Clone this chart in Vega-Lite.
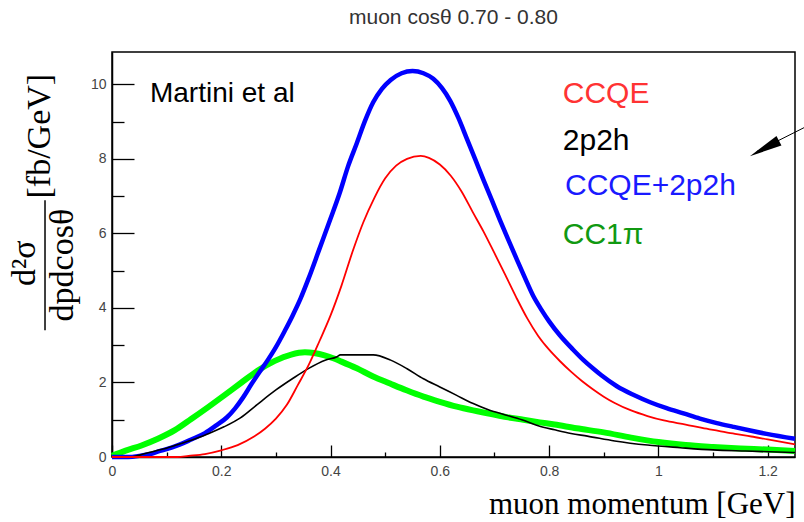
{
  "$schema": "https://vega.github.io/schema/vega-lite/v6.json",
  "width": 683,
  "height": 405,
  "autosize": {"type": "none"},
  "padding": {"left": 112, "top": 52, "right": 9, "bottom": 65},
  "background": "white",
  "config": {
    "view": {"stroke": "black", "strokeWidth": 1.5},
    "axis": {
      "grid": false,
      "labelFont": "Liberation Sans",
      "labelFontSize": 14,
      "labelColor": "#444444",
      "tickColor": "black",
      "tickWidth": 1.3,
      "domainColor": "black",
      "domainWidth": 1.5
    }
  },
  "title": {
    "text": "muon cosθ 0.70 - 0.80",
    "font": "Liberation Sans",
    "fontSize": 21,
    "fontWeight": "normal",
    "color": "#333333",
    "anchor": "middle",
    "offset": 24
  },
  "datasets": {
    "ccqe": [
      {"p": 0, "xs": 0}, {"p": 0.12, "xs": 0}, {"p": 0.14, "xs": 0.03}, {"p": 0.17, "xs": 0.08},
      {"p": 0.2, "xs": 0.18}, {"p": 0.23, "xs": 0.32}, {"p": 0.26, "xs": 0.55}, {"p": 0.28, "xs": 0.76},
      {"p": 0.3, "xs": 1.03}, {"p": 0.32, "xs": 1.4}, {"p": 0.34, "xs": 1.93}, {"p": 0.36, "xs": 2.47},
      {"p": 0.38, "xs": 3.12}, {"p": 0.4, "xs": 3.8}, {"p": 0.42, "xs": 4.6}, {"p": 0.44, "xs": 5.5},
      {"p": 0.46, "xs": 6.3}, {"p": 0.48, "xs": 6.95}, {"p": 0.5, "xs": 7.48}, {"p": 0.52, "xs": 7.82},
      {"p": 0.54, "xs": 8.0}, {"p": 0.565, "xs": 8.08}, {"p": 0.58, "xs": 8.03}, {"p": 0.6, "xs": 7.85},
      {"p": 0.62, "xs": 7.55}, {"p": 0.64, "xs": 7.12}, {"p": 0.66, "xs": 6.58}, {"p": 0.68, "xs": 6.05},
      {"p": 0.7, "xs": 5.47}, {"p": 0.72, "xs": 4.88}, {"p": 0.74, "xs": 4.28}, {"p": 0.76, "xs": 3.72},
      {"p": 0.78, "xs": 3.25}, {"p": 0.8, "xs": 2.88}, {"p": 0.82, "xs": 2.57}, {"p": 0.84, "xs": 2.29},
      {"p": 0.86, "xs": 2.04}, {"p": 0.88, "xs": 1.82}, {"p": 0.9, "xs": 1.62}, {"p": 0.92, "xs": 1.45},
      {"p": 0.95, "xs": 1.25}, {"p": 0.98, "xs": 1.1}, {"p": 1.01, "xs": 0.98}, {"p": 1.05, "xs": 0.87},
      {"p": 1.08, "xs": 0.78}, {"p": 1.11, "xs": 0.7}, {"p": 1.14, "xs": 0.62}, {"p": 1.17, "xs": 0.55},
      {"p": 1.2, "xs": 0.47}, {"p": 1.25, "xs": 0.34}
    ],
    "np2h": [
      {"p": 0, "xs": 0}, {"p": 0.035, "xs": 0}, {"p": 0.05, "xs": 0.05}, {"p": 0.07, "xs": 0.13},
      {"p": 0.09, "xs": 0.2}, {"p": 0.115, "xs": 0.31}, {"p": 0.145, "xs": 0.45}, {"p": 0.175, "xs": 0.62},
      {"p": 0.205, "xs": 0.81}, {"p": 0.235, "xs": 1.05}, {"p": 0.265, "xs": 1.4}, {"p": 0.3, "xs": 1.8},
      {"p": 0.33, "xs": 2.1}, {"p": 0.36, "xs": 2.38}, {"p": 0.39, "xs": 2.6}, {"p": 0.412, "xs": 2.69},
      {"p": 0.418, "xs": 2.74}, {"p": 0.478, "xs": 2.74}, {"p": 0.51, "xs": 2.6}, {"p": 0.54, "xs": 2.37},
      {"p": 0.57, "xs": 2.1}, {"p": 0.6, "xs": 1.88}, {"p": 0.63, "xs": 1.66}, {"p": 0.66, "xs": 1.44},
      {"p": 0.69, "xs": 1.26}, {"p": 0.72, "xs": 1.13}, {"p": 0.75, "xs": 1.0}, {"p": 0.78, "xs": 0.84},
      {"p": 0.81, "xs": 0.73}, {"p": 0.84, "xs": 0.63}, {"p": 0.87, "xs": 0.56}, {"p": 0.92, "xs": 0.43},
      {"p": 0.98, "xs": 0.32}, {"p": 1.04, "xs": 0.25}, {"p": 1.1, "xs": 0.19}, {"p": 1.16, "xs": 0.16},
      {"p": 1.25, "xs": 0.12}
    ],
    "total": [
      {"p": 0, "xs": 0}, {"p": 0.03, "xs": 0}, {"p": 0.05, "xs": 0.03}, {"p": 0.07, "xs": 0.08},
      {"p": 0.085, "xs": 0.15}, {"p": 0.1, "xs": 0.21}, {"p": 0.12, "xs": 0.31}, {"p": 0.145, "xs": 0.47},
      {"p": 0.17, "xs": 0.64}, {"p": 0.19, "xs": 0.84}, {"p": 0.21, "xs": 1.06}, {"p": 0.225, "xs": 1.3},
      {"p": 0.24, "xs": 1.6}, {"p": 0.255, "xs": 1.95}, {"p": 0.27, "xs": 2.28}, {"p": 0.285, "xs": 2.6},
      {"p": 0.3, "xs": 2.95}, {"p": 0.316, "xs": 3.38}, {"p": 0.33, "xs": 3.78}, {"p": 0.345, "xs": 4.25},
      {"p": 0.36, "xs": 4.8}, {"p": 0.38, "xs": 5.6}, {"p": 0.4, "xs": 6.4}, {"p": 0.417, "xs": 7.1},
      {"p": 0.432, "xs": 7.8}, {"p": 0.448, "xs": 8.42}, {"p": 0.463, "xs": 9.02}, {"p": 0.478, "xs": 9.52},
      {"p": 0.494, "xs": 9.88}, {"p": 0.51, "xs": 10.12}, {"p": 0.53, "xs": 10.3}, {"p": 0.55, "xs": 10.36},
      {"p": 0.57, "xs": 10.3}, {"p": 0.588, "xs": 10.15}, {"p": 0.604, "xs": 9.9}, {"p": 0.619, "xs": 9.56},
      {"p": 0.634, "xs": 9.1}, {"p": 0.649, "xs": 8.56}, {"p": 0.665, "xs": 7.98}, {"p": 0.68, "xs": 7.43},
      {"p": 0.695, "xs": 6.9}, {"p": 0.71, "xs": 6.36}, {"p": 0.725, "xs": 5.84}, {"p": 0.741, "xs": 5.3},
      {"p": 0.756, "xs": 4.8}, {"p": 0.771, "xs": 4.32}, {"p": 0.786, "xs": 3.95}, {"p": 0.8, "xs": 3.64},
      {"p": 0.82, "xs": 3.26}, {"p": 0.844, "xs": 2.88}, {"p": 0.863, "xs": 2.6}, {"p": 0.88, "xs": 2.38},
      {"p": 0.895, "xs": 2.2}, {"p": 0.924, "xs": 1.9}, {"p": 0.954, "xs": 1.67}, {"p": 0.985, "xs": 1.47},
      {"p": 1.015, "xs": 1.31}, {"p": 1.046, "xs": 1.17}, {"p": 1.076, "xs": 1.03}, {"p": 1.107, "xs": 0.91},
      {"p": 1.137, "xs": 0.81}, {"p": 1.168, "xs": 0.71}, {"p": 1.198, "xs": 0.62}, {"p": 1.25, "xs": 0.49}
    ],
    "cc1pi": [
      {"p": 0, "xs": 0.03}, {"p": 0.025, "xs": 0.17}, {"p": 0.054, "xs": 0.31}, {"p": 0.084, "xs": 0.49},
      {"p": 0.115, "xs": 0.72}, {"p": 0.145, "xs": 1.02}, {"p": 0.176, "xs": 1.34}, {"p": 0.206, "xs": 1.66},
      {"p": 0.237, "xs": 2.0}, {"p": 0.267, "xs": 2.32}, {"p": 0.298, "xs": 2.58}, {"p": 0.328, "xs": 2.75},
      {"p": 0.353, "xs": 2.81}, {"p": 0.37, "xs": 2.79}, {"p": 0.389, "xs": 2.73}, {"p": 0.405, "xs": 2.65},
      {"p": 0.42, "xs": 2.56}, {"p": 0.448, "xs": 2.38}, {"p": 0.478, "xs": 2.16}, {"p": 0.509, "xs": 1.97},
      {"p": 0.539, "xs": 1.79}, {"p": 0.57, "xs": 1.62}, {"p": 0.6, "xs": 1.48}, {"p": 0.631, "xs": 1.35},
      {"p": 0.661, "xs": 1.25}, {"p": 0.692, "xs": 1.16}, {"p": 0.722, "xs": 1.07}, {"p": 0.753, "xs": 1.0},
      {"p": 0.783, "xs": 0.93}, {"p": 0.81, "xs": 0.87}, {"p": 0.85, "xs": 0.77}, {"p": 0.9, "xs": 0.66},
      {"p": 0.95, "xs": 0.52}, {"p": 1.0, "xs": 0.4}, {"p": 1.05, "xs": 0.32}, {"p": 1.1, "xs": 0.27},
      {"p": 1.15, "xs": 0.23}, {"p": 1.2, "xs": 0.2}, {"p": 1.25, "xs": 0.16}
    ]
  },
  "layer": [
    {
      "data": {"name": "cc1pi"},
      "mark": {"type": "line", "interpolate": "monotone", "color": "#00ff00", "strokeWidth": 6},
      "encoding": {
        "x": {
          "field": "p", "type": "quantitative",
          "scale": {"domain": [0, 1.25], "nice": false, "zero": false},
          "axis": {
            "values": [0, 0.05, 0.1, 0.15, 0.2, 0.25, 0.3, 0.35, 0.4, 0.45, 0.5, 0.55, 0.6, 0.65, 0.7, 0.75, 0.8, 0.85, 0.9, 0.95, 1, 1.05, 1.1, 1.15, 1.2, 1.25],
            "labelExpr": "abs(datum.value / 0.2 - round(datum.value / 0.2)) < 0.001 ? format(datum.value, '~g') : ''",
            "tickSize": {"condition": {"test": "abs(datum.value / 0.2 - round(datum.value / 0.2)) < 0.001", "value": -12}, "value": -5},
            "labelPadding": 19,
            "labelFlush": false,
            "labelOverlap": false,
            "encode": {
              "labels": {
                "update": {
                  "fontSize": {"value": 14},
                  "font": {"value": "Liberation Sans"},
                  "fill": {"value": "#444444"}
                }
              }
            },
            "title": "muon momentum [GeV]",
            "titleFont": "Liberation Serif",
            "titleFontSize": 31,
            "titleFontWeight": "normal",
            "titleColor": "black",
            "titleAnchor": "end",
            "titleAlign": "right",
            "titleBaseline": "alphabetic",
            "titleY": 56
          }
        },
        "y": {
          "field": "xs", "type": "quantitative",
          "scale": {"domain": [0, 10.87], "nice": false, "zero": false},
          "axis": {
            "values": [0, 0.5, 1, 1.5, 2, 2.5, 3, 3.5, 4, 4.5, 5, 5.5, 6, 6.5, 7, 7.5, 8, 8.5, 9, 9.5, 10, 10.5],
            "labelExpr": "abs(datum.value / 2 - round(datum.value / 2)) < 0.001 ? format(datum.value, '~g') : ''",
            "tickSize": {"condition": {"test": "abs(datum.value / 2 - round(datum.value / 2)) < 0.001", "value": -22}, "value": -12},
            "labelPadding": 28,
            "labelFlush": false,
            "labelOverlap": false,
            "encode": {
              "labels": {
                "update": {
                  "fontSize": {"value": 14},
                  "font": {"value": "Liberation Sans"},
                  "fill": {"value": "#444444"}
                }
              }
            },
            "title": null
          }
        }
      }
    },
    {
      "data": {"name": "total"},
      "mark": {"type": "line", "interpolate": "monotone", "color": "#0000ff", "strokeWidth": 4.5},
      "encoding": {
        "x": {"field": "p", "type": "quantitative"},
        "y": {"field": "xs", "type": "quantitative"}
      }
    },
    {
      "data": {"name": "np2h"},
      "mark": {"type": "line", "interpolate": "monotone", "color": "black", "strokeWidth": 1.6},
      "encoding": {
        "x": {"field": "p", "type": "quantitative"},
        "y": {"field": "xs", "type": "quantitative"}
      }
    },
    {
      "data": {"name": "ccqe"},
      "mark": {"type": "line", "interpolate": "monotone", "color": "#ff0000", "strokeWidth": 1.8},
      "encoding": {
        "x": {"field": "p", "type": "quantitative"},
        "y": {"field": "xs", "type": "quantitative"}
      }
    },
    {
      "data": {"values": [{}]},
      "mark": {"type": "text", "font": "Liberation Sans", "fontSize": 28, "align": "left", "baseline": "alphabetic", "color": "black"},
      "encoding": {
        "x": {"datum": 0.0695, "type": "quantitative"},
        "y": {"datum": 9.54, "type": "quantitative"},
        "text": {"value": "Martini et al"}
      }
    },
    {
      "data": {"values": [{}]},
      "mark": {"type": "text", "font": "Liberation Sans", "fontSize": 30, "align": "left", "baseline": "alphabetic", "color": "#ff3333"},
      "encoding": {
        "x": {"datum": 0.825, "type": "quantitative"},
        "y": {"datum": 9.49, "type": "quantitative"},
        "text": {"value": "CCQE"}
      }
    },
    {
      "data": {"values": [{}]},
      "mark": {"type": "text", "font": "Liberation Sans", "fontSize": 30, "align": "left", "baseline": "alphabetic", "color": "black"},
      "encoding": {
        "x": {"datum": 0.825, "type": "quantitative"},
        "y": {"datum": 8.24, "type": "quantitative"},
        "text": {"value": "2p2h"}
      }
    },
    {
      "data": {"values": [{}]},
      "mark": {"type": "text", "font": "Liberation Sans", "fontSize": 30, "align": "left", "baseline": "alphabetic", "color": "#1a1aff"},
      "encoding": {
        "x": {"datum": 0.829, "type": "quantitative"},
        "y": {"datum": 7.02, "type": "quantitative"},
        "text": {"value": "CCQE+2p2h"}
      }
    },
    {
      "data": {"values": [{}]},
      "mark": {"type": "text", "font": "Liberation Sans", "fontSize": 30, "align": "left", "baseline": "alphabetic", "color": "#119911"},
      "encoding": {
        "x": {"datum": 0.825, "type": "quantitative"},
        "y": {"datum": 5.73, "type": "quantitative"},
        "text": {"value": "CC1π"}
      }
    },
    {
      "data": {"values": [{}]},
      "mark": {"type": "rule", "color": "black", "strokeWidth": 1},
      "encoding": {
        "x": {"datum": 1.268, "type": "quantitative"},
        "y": {"datum": 8.85, "type": "quantitative"},
        "x2": {"datum": 1.18},
        "y2": {"datum": 8.2}
      }
    },
    {
      "data": {"values": [{}]},
      "mark": {"type": "point", "shape": "M0,-1L-0.32,1L0.32,1Z", "filled": true, "color": "black", "opacity": 1, "size": 1089, "angle": 242},
      "encoding": {
        "x": {"datum": 1.194, "type": "quantitative"},
        "y": {"datum": 8.28, "type": "quantitative"}
      }
    },
    {
      "data": {"values": [{}]},
      "mark": {"type": "text", "font": "Liberation Serif", "fontSize": 34, "angle": 270, "align": "center", "baseline": "middle", "color": "black"},
      "encoding": {
        "x": {"datum": -0.1318, "type": "quantitative"},
        "y": {"datum": 8.61, "type": "quantitative"},
        "text": {"value": "[fb/GeV]"}
      }
    },
    {
      "data": {"values": [{}]},
      "mark": {"type": "text", "font": "Liberation Serif", "fontSize": 34, "angle": 270, "align": "center", "baseline": "middle", "color": "black"},
      "encoding": {
        "x": {"datum": -0.1592, "type": "quantitative"},
        "y": {"datum": 5.2, "type": "quantitative"},
        "text": {"value": "d²σ"}
      }
    },
    {
      "data": {"values": [{}]},
      "mark": {"type": "rule", "color": "black", "strokeWidth": 1.5},
      "encoding": {
        "x": {"datum": -0.1226, "type": "quantitative"},
        "y": {"datum": 6.89, "type": "quantitative"},
        "y2": {"datum": 3.4}
      }
    },
    {
      "data": {"values": [{}]},
      "mark": {"type": "text", "font": "Liberation Serif", "fontSize": 34, "angle": 270, "align": "center", "baseline": "middle", "color": "black"},
      "encoding": {
        "x": {"datum": -0.0897, "type": "quantitative"},
        "y": {"datum": 5.15, "type": "quantitative"},
        "text": {"value": "dpdcosθ"}
      }
    }
  ]
}
